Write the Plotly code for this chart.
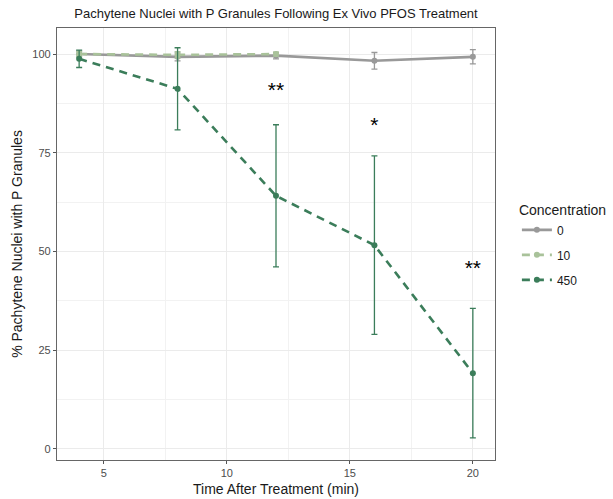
import plotly.graph_objects as go

time_0 = [4, 8, 12, 16, 20]
pct_0 = [100.0, 99.3, 99.6, 98.3, 99.3]
err_0 = [0.8, 1.0, 0.8, 2.1, 1.8]

time_10 = [4, 8, 12]
pct_10 = [100.0, 99.8, 100.0]
err_10 = [0.6, 0.8, 0.5]

time_450 = [4, 8, 12, 16, 20]
pct_450 = [98.8, 91.2, 64.1, 51.6, 19.2]
err_450 = [2.2, 10.4, 18.0, 22.6, 16.4]

sig_x = [12, 16, 20]
sig_y = [90.5, 81.5, 45.5]
sig_text = ["**", "*", "**"]

x_ticks = [5, 10, 15, 20]
x_minor = [7.5, 12.5, 17.5]
y_ticks = [0, 25, 50, 75, 100]
y_minor = [12.5, 37.5, 62.5, 87.5]

series = [
    ("0", time_0, pct_0, err_0, "#999999", "solid"),
    ("10", time_10, pct_10, err_10, "#a9c29a", "8px,6px"),
    ("450", time_450, pct_450, err_450, "#3b7d5a", "8px,6px"),
]

fig = go.Figure()
for name, x, y, e, col, dash in series:
    fig.add_trace(go.Scatter(
        x=x, y=y, name=name, mode="lines+markers", legendgroup="g" + name,
        line=dict(color=col, width=2.6, dash=dash),
        marker=dict(color=col, size=6),
        error_y=dict(type="data", array=e, visible=True, color=col,
                     thickness=1.3, width=3),
    ))

fig.add_trace(go.Scatter(
    x=sig_x, y=sig_y, text=sig_text, mode="text", showlegend=False,
    textfont=dict(size=21, color="black", family="Liberation Sans"),
    hoverinfo="skip",
))

axis_common = dict(
    showgrid=True, gridcolor="#ebebeb", gridwidth=1,
    zeroline=False, showline=True, linecolor="#666666", linewidth=1.2,
    mirror=True, ticks="outside", ticklen=3, tickcolor="#555555",
    tickfont=dict(size=11, color="#4d4d4d", family="Liberation Sans"),
    automargin=False,
)

fig.update_layout(
    width=613, height=499,
    margin=dict(l=57, r=118, t=28, b=39, autoexpand=False),
    paper_bgcolor="white", plot_bgcolor="white",
    font=dict(family="Liberation Sans", color="#1a1a1a"),
    title=dict(text="Pachytene Nuclei with P Granules Following Ex Vivo PFOS Treatment",
               x=(57 + 495) / 2 / 613, xanchor="center", y=1 - 13 / 499, yanchor="middle",
               font=dict(size=13, color="#1a1a1a"), automargin=False),
    xaxis=dict(axis_common, range=[3.1, 20.9], tickvals=x_ticks,
               minor=dict(tickvals=x_minor, showgrid=True, gridcolor="#f2f2f2",
                          gridwidth=0.6, ticks=""),
               title=dict(text="Time After Treatment (min)", standoff=5,
                          font=dict(size=14, color="#1a1a1a"))),
    yaxis=dict(axis_common, range=[-2.8, 106.6], tickvals=y_ticks,
               minor=dict(tickvals=y_minor, showgrid=True, gridcolor="#f2f2f2",
                          gridwidth=0.6, ticks=""),
               title=dict(text="% Pachytene Nuclei with P Granules", standoff=6,
                          font=dict(size=14, color="#1a1a1a"))),
    legend=dict(title=dict(text="Concentration", font=dict(size=14)),
                x=1.05, xanchor="left", y=0.495, yanchor="middle",
                font=dict(size=12, color="#1a1a1a"), tracegroupgap=6,
                itemwidth=30),
)

fig.write_html("out.html", config={"displayModeBar": False},
               post_script="document.body.style.margin='0';document.body.style.overflow='hidden';")
